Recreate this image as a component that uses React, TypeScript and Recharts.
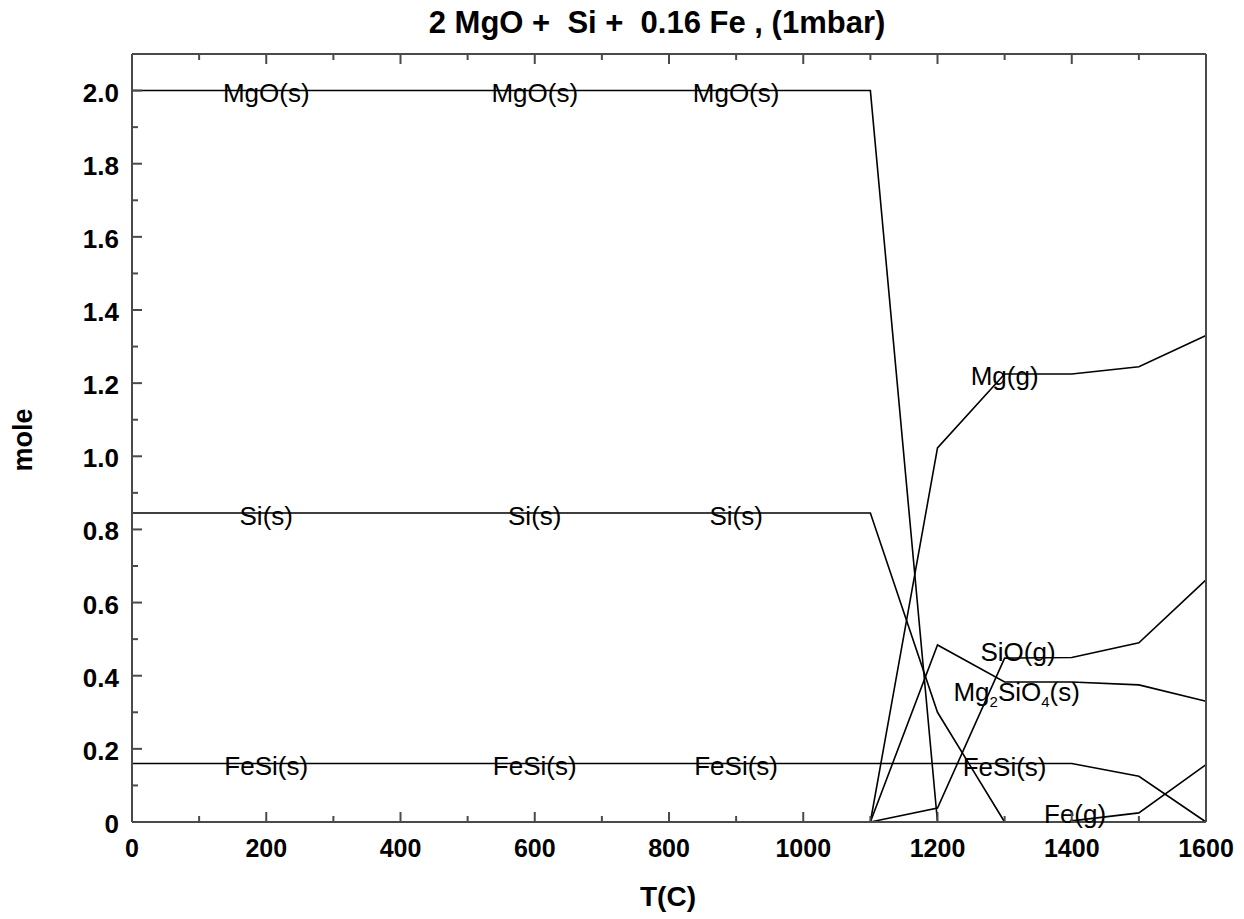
import { LineChart, Line, XAxis, YAxis, ReferenceDot } from 'recharts'

const temps = [0, 100, 200, 300, 400, 500, 600, 700, 800, 900, 1000, 1100, 1200, 1300, 1400, 1500, 1600]

const mgoS = [2, 2, 2, 2, 2, 2, 2, 2, 2, 2, 2, 2, 0, null, null, null, null]
const siS = [0.845, 0.845, 0.845, 0.845, 0.845, 0.845, 0.845, 0.845, 0.845, 0.845, 0.845, 0.845, 0.3, 0, null, null, null]
const fesiS = [0.16, 0.16, 0.16, 0.16, 0.16, 0.16, 0.16, 0.16, 0.16, 0.16, 0.16, 0.16, 0.16, 0.16, 0.16, 0.125, 0]
const mgG = [null, null, null, null, null, null, null, null, null, null, null, 0, 1.023, 1.225, 1.225, 1.245, 1.33]
const sioG = [null, null, null, null, null, null, null, null, null, null, null, 0, 0.038, 0.448, 0.45, 0.49, 0.662]
const mg2sio4S = [null, null, null, null, null, null, null, null, null, null, null, 0, 0.484, 0.383, 0.383, 0.375, 0.33]
const feG = [null, null, null, null, null, null, null, null, null, null, null, null, null, null, 0.003, 0.025, 0.157]

const xTicks = [0, 100, 200, 300, 400, 500, 600, 700, 800, 900, 1000, 1100, 1200, 1300, 1400, 1500, 1600]
const yTicks = [0, 0.1, 0.2, 0.3, 0.4, 0.5, 0.6, 0.7, 0.8, 0.9, 1.0, 1.1, 1.2, 1.3, 1.4, 1.5, 1.6, 1.7, 1.8, 1.9, 2.0]

// species labels, in data coordinates (T, mole)
const labels = [
  { t: 200, v: 1.992, text: 'MgO(s)' },
  { t: 600, v: 1.992, text: 'MgO(s)' },
  { t: 900, v: 1.992, text: 'MgO(s)' },
  { t: 200, v: 0.837, text: 'Si(s)' },
  { t: 600, v: 0.837, text: 'Si(s)' },
  { t: 900, v: 0.837, text: 'Si(s)' },
  { t: 200, v: 0.152, text: 'FeSi(s)' },
  { t: 600, v: 0.152, text: 'FeSi(s)' },
  { t: 900, v: 0.152, text: 'FeSi(s)' },
  { t: 1300, v: 1.22, text: 'Mg(g)' },
  { t: 1320, v: 0.464, text: 'SiO(g)' },
  { t: 1318, v: 0.356, text: 'Mg2SiO4(s)' },
  { t: 1300, v: 0.15, text: 'FeSi(s)' },
  { t: 1405, v: 0.022, text: 'Fe(g)' },
]

const rows = temps.map((t, i) => ({
  T: t,
  mgoS: mgoS[i],
  siS: siS[i],
  fesiS: fesiS[i],
  mgG: mgG[i],
  sioG: sioG[i],
  mg2sio4S: mg2sio4S[i],
  feG: feG[i],
}))

const FONT = '"Liberation Sans", Arial, Helvetica, sans-serif'
const AXIS = '#4a4a4a'

const isMajorX = (v: number) => v % 200 === 0
const isMajorY = (v: number) => Math.round(v * 10) % 2 === 0

const BottomTick = ({ x, y, payload }: any) => {
  const major = isMajorX(payload.value)
  return (
    <g>
      <line x1={x} x2={x} y1={y} y2={y - (major ? 10 : 6)} stroke={AXIS} strokeWidth={2} />
      {major && (
        <text x={x} y={y + 35} textAnchor="middle" fontSize={25} fontWeight="bold" fontFamily={FONT} fill="#000">
          {payload.value}
        </text>
      )}
    </g>
  )
}

const TopTick = ({ x, y, payload }: any) => {
  const major = isMajorX(payload.value)
  return <line x1={x} x2={x} y1={y} y2={y + (major ? 10 : 6)} stroke={AXIS} strokeWidth={2} />
}

const LeftTick = ({ x, y, payload }: any) => {
  const major = isMajorY(payload.value)
  return (
    <g>
      <line x1={x} x2={x + (major ? 10 : 6)} y1={y} y2={y} stroke={AXIS} strokeWidth={2} />
      {major && (
        <text x={x - 13} y={y + 11} textAnchor="end" fontSize={26} fontWeight="bold" fontFamily={FONT} fill="#000">
          {payload.value === 0 ? '0' : payload.value.toFixed(1)}
        </text>
      )}
    </g>
  )
}

const RightTick = ({ x, y, payload }: any) => {
  const major = isMajorY(payload.value)
  return <line x1={x} x2={x - (major ? 10 : 6)} y1={y} y2={y} stroke={AXIS} strokeWidth={2} />
}

const SpeciesLabel = ({ viewBox, text }: any) => {
  const cx = viewBox.x + viewBox.width / 2
  const cy = viewBox.y + viewBox.height / 2
  const common = { x: cx, y: cy + 9, textAnchor: 'middle' as const, fontSize: 26, fontFamily: FONT, fill: '#000' }
  if (text === 'Mg2SiO4(s)') {
    return (
      <text {...common}>
        Mg<tspan fontSize={15} dy={6}>2</tspan>
        <tspan dy={-6}>SiO</tspan>
        <tspan fontSize={15} dy={6}>4</tspan>
        <tspan dy={-6}>(s)</tspan>
      </text>
    )
  }
  return <text {...common}>{text}</text>
}

const series = ['mgoS', 'siS', 'fesiS', 'mgG', 'sioG', 'mg2sio4S', 'feG']

export default function App() {
  return (
    <div style={{ position: 'absolute', left: 0, top: 0, width: 1244, height: 919, background: '#fff' }}>
      <div
        style={{
          position: 'absolute', left: 0, width: 1244, top: 5, textAlign: 'center',
          fontFamily: FONT, fontWeight: 'bold', fontSize: 31, paddingLeft: 70, boxSizing: 'border-box',
          whiteSpace: 'pre', lineHeight: '36px',
        }}
      >
        {'2 MgO +  Si +  0.16 Fe , (1mbar)'}
      </div>
      <div
        style={{
          position: 'absolute', left: 23, top: 440, transform: 'translate(-50%, -50%) rotate(-90deg)',
          fontFamily: FONT, fontWeight: 'bold', fontSize: 27,
        }}
      >
        mole
      </div>
      <div
        style={{
          position: 'absolute', left: 668, top: 897, transform: 'translate(-50%, -50%)',
          fontFamily: FONT, fontWeight: 'bold', fontSize: 28,
        }}
      >
        T(C)
      </div>
      <LineChart width={1244} height={919} data={rows} margin={{ top: 53, right: 37, bottom: 37, left: 52 }}>
        <XAxis
          xAxisId="b" dataKey="T" type="number" domain={[0, 1600]} ticks={xTicks} interval={0}
          height={60} tickSize={0} tickMargin={0} tickLine={false} tick={<BottomTick />}
          axisLine={{ stroke: AXIS, strokeWidth: 2 }}
        />
        <XAxis
          xAxisId="t" orientation="top" dataKey="T" type="number" domain={[0, 1600]} ticks={xTicks} interval={0}
          height={1} tickSize={0} tickMargin={0} tickLine={false} tick={<TopTick />}
          axisLine={{ stroke: AXIS, strokeWidth: 2 }}
        />
        <YAxis
          yAxisId="l" type="number" domain={[0, 2.1]} ticks={yTicks} interval={0}
          width={80} tickSize={0} tickMargin={0} tickLine={false} tick={<LeftTick />}
          axisLine={{ stroke: AXIS, strokeWidth: 2 }}
        />
        <YAxis
          yAxisId="r" orientation="right" type="number" domain={[0, 2.1]} ticks={yTicks} interval={0}
          width={1} tickSize={0} tickMargin={0} tickLine={false} tick={<RightTick />}
          axisLine={{ stroke: AXIS, strokeWidth: 2 }}
        />
        {series.map((k) => (
          <Line
            key={k} xAxisId="b" yAxisId="l" dataKey={k} type="linear" stroke="#000" strokeWidth={1.6}
            dot={false} activeDot={false} isAnimationActive={false} connectNulls={false}
          />
        ))}
        {labels.map((l, i) => (
          <ReferenceDot
            key={i} xAxisId="b" yAxisId="l" x={l.t} y={l.v} r={0} fill="none" stroke="none"
            label={<SpeciesLabel text={l.text} />}
          />
        ))}
      </LineChart>
    </div>
  )
}
